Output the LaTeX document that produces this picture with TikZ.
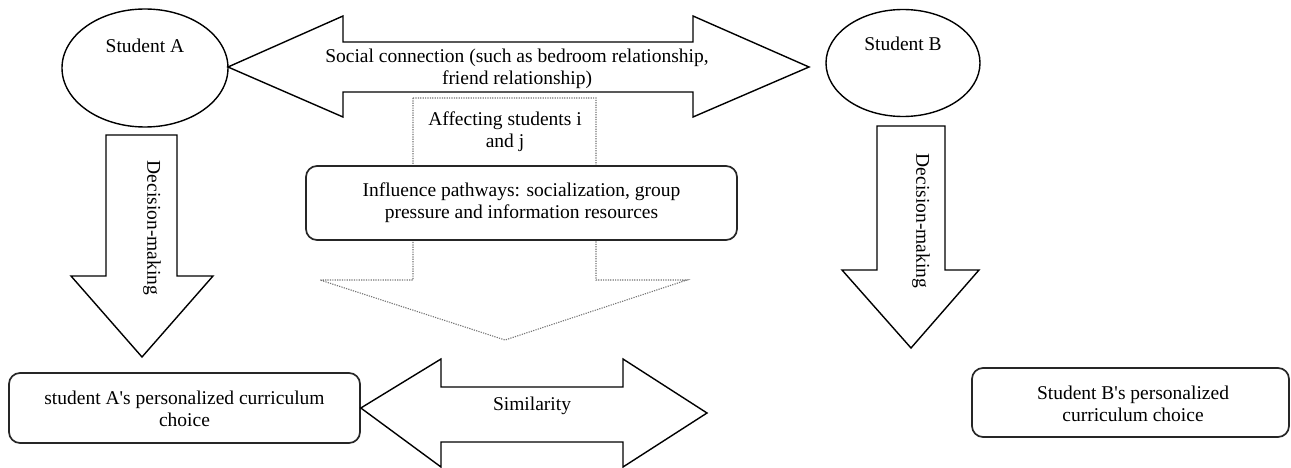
\documentclass[tikz,border=0pt]{standalone}
\usepackage{fontspec}
\setmainfont{Liberation Serif}
\newfontfamily\straightq{Liberation Serif}[Ligatures=TeXOff]
\newcommand{\sq}{{\straightq\char"0027}}
\usetikzlibrary{shapes.geometric}
\begin{document}
\begin{tikzpicture}[x=1pt,y=-1pt,
  txt/.style={font=\fontsize{19.5}{22}\selectfont, align=center, inner sep=0pt, text=black},
  blockarrow/.style={draw=black, line width=1.4pt, fill=white, line join=miter},
  dotarrow/.style={draw=black!55, line width=1.1pt, dash pattern=on 1.2pt off 1.2pt},
  roundbox/.style={draw=black!85, line width=1.7pt, rounded corners=11pt, fill=white},
  studentell/.style={draw=black, line width=1.4pt, ellipse, fill=white}]
\useasboundingbox (0,0) rectangle (1291,468);
% student ellipses
\node[studentell, minimum width=166pt, minimum height=118pt] (sa) at (145,68) {};
\node[txt] (saT) at (145,46) {Student A};
\node[studentell, minimum width=154pt, minimum height=107pt] (sb) at (903,63) {};
\node[txt] (sbT) at (903,44) {Student B};
% social connection double arrow
\draw[blockarrow] (228,67) -- (343,16) -- (343,42) -- (693,42) -- (693,16) -- (809,67)
  -- (693,117) -- (693,92) -- (343,92) -- (343,117) -- cycle;
\node[txt] (soc) at (517,69) {Social connection (such as bedroom relationship,\\ friend relationship)};
% dotted arrow
\draw[dotarrow] (413,98) -- (596,98) -- (596,280) -- (687,280) -- (505,340)
  -- (320,280) -- (413,280) -- cycle;
\node[txt] (aff) at (505,132) {Affecting students i\\ and j};
% influence box
\node[roundbox, minimum width=431pt, minimum height=74pt, inner sep=0pt] (inf) at (521.5,203) {};
\node[txt] (infT) at (521.5,203) {Influence pathways: socialization, group\\ pressure and information resources};
% decision arrows
\draw[blockarrow] (106,135) -- (177,135) -- (177,276) -- (213,276) -- (142,357)
  -- (71,276) -- (106,276) -- cycle;
\node[txt, rotate=-90] (decA) at (152,228) {Decision-making};
\draw[blockarrow] (877,126) -- (945,126) -- (945,270) -- (979,270) -- (911,348)
  -- (842,270) -- (877,270) -- cycle;
\node[txt, rotate=-90] (decB) at (921,221) {Decision-making};
% bottom boxes
\node[roundbox, minimum width=351pt, minimum height=70pt, inner sep=0pt] (ca) at (184.5,408) {};
\node[txt] (caT) at (184.5,409) {student A\sq s personalized curriculum\\ choice};
\node[roundbox, minimum width=317pt, minimum height=69pt, inner sep=0pt] (cb) at (1130.5,402.5) {};
\node[txt] (cbT) at (1133,404) {Student B\sq s personalized\\ curriculum choice};
% similarity arrow
\draw[blockarrow] (ca.east) -- (441,359) -- (441,387) -- (623,387) -- (623,359) -- (707,413)
  -- (623,467) -- (623,442) -- (441,442) -- (441,467) -- cycle;
\node[txt] (sim) at (532,406) {Similarity};
\end{tikzpicture}
\end{document}
